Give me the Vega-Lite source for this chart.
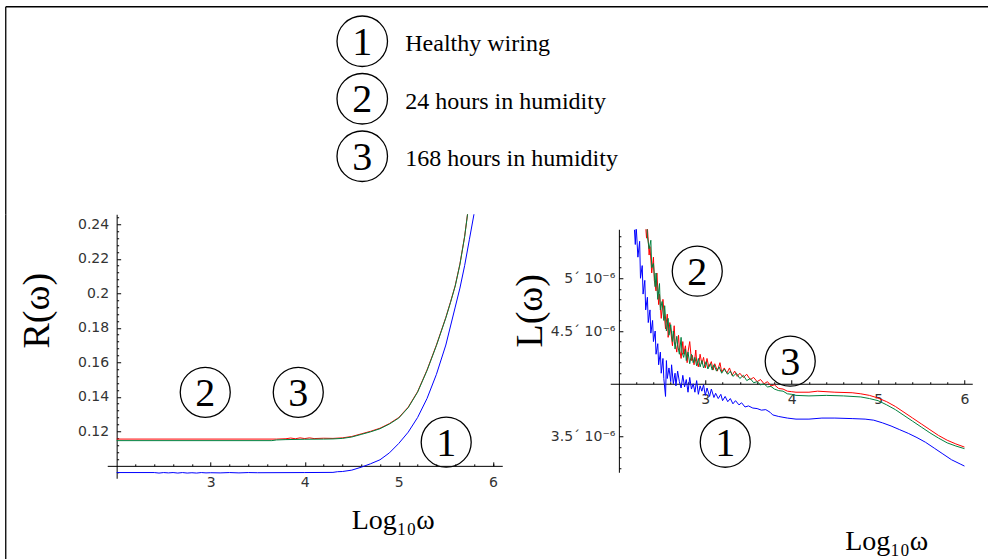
{
  "$schema": "https://vega.github.io/schema/vega-lite/v6.json",
  "background": "white",
  "padding": {"left": 5.25, "top": 6.25, "right": 0, "bottom": 0},
  "config": {
    "view": {"stroke": null},
    "font": "Liberation Serif",
    "text": {"font": "Liberation Serif"},
    "axis": {
      "grid": false,
      "domainColor": "black",
      "domainWidth": 1,
      "tickColor": "black",
      "tickWidth": 1,
      "labelFont": "DejaVu Sans",
      "labelFontSize": 14,
      "labelColor": "#333333",
      "titleFont": "Liberation Serif",
      "titleFontWeight": "normal",
      "titleColor": "black"
    }
  },
  "datasets": {
    "legend": [
      {"entry": 1, "label": "Healthy wiring"},
      {"entry": 2, "label": "24 hours in humidity"},
      {"entry": 3, "label": "168 hours in humidity"}
    ],
    "notes": [
      {"panel": "R", "n": "2", "logw": 2.942, "value": 0.1426},
      {"panel": "R", "n": "3", "logw": 3.931, "value": 0.1426},
      {"panel": "R", "n": "1", "logw": 5.504, "value": 0.1137},
      {"panel": "L", "n": "2", "logw": 2.907, "value": 5.067e-6},
      {"panel": "L", "n": "3", "logw": 3.983, "value": 4.214e-6},
      {"panel": "L", "n": "1", "logw": 3.231, "value": 3.446e-6}
    ],
    "resistance": [
      {"series": "1", "logw": 2.0, "R": 0.0961},
      {"series": "1", "logw": 2.4, "R": 0.0961},
      {"series": "1", "logw": 2.45, "R": 0.0958},
      {"series": "1", "logw": 2.5, "R": 0.0961},
      {"series": "1", "logw": 2.55, "R": 0.0959},
      {"series": "1", "logw": 2.6, "R": 0.0961},
      {"series": "1", "logw": 2.65, "R": 0.0958},
      {"series": "1", "logw": 2.7, "R": 0.0961},
      {"series": "1", "logw": 2.75, "R": 0.0958},
      {"series": "1", "logw": 2.8, "R": 0.096},
      {"series": "1", "logw": 2.85, "R": 0.0958},
      {"series": "1", "logw": 2.9, "R": 0.0961},
      {"series": "1", "logw": 2.95, "R": 0.0959},
      {"series": "1", "logw": 3.0, "R": 0.096},
      {"series": "1", "logw": 3.1, "R": 0.0959},
      {"series": "1", "logw": 3.2, "R": 0.0961},
      {"series": "1", "logw": 3.3, "R": 0.0959},
      {"series": "1", "logw": 3.4, "R": 0.0961},
      {"series": "1", "logw": 3.5, "R": 0.096},
      {"series": "1", "logw": 4.0, "R": 0.0961},
      {"series": "1", "logw": 4.3, "R": 0.0962},
      {"series": "1", "logw": 4.35, "R": 0.0966},
      {"series": "1", "logw": 4.4, "R": 0.0967},
      {"series": "1", "logw": 4.5, "R": 0.0975},
      {"series": "1", "logw": 4.6, "R": 0.0992},
      {"series": "1", "logw": 4.7, "R": 0.1012},
      {"series": "1", "logw": 4.8, "R": 0.1035},
      {"series": "1", "logw": 4.9, "R": 0.1075},
      {"series": "1", "logw": 5.0, "R": 0.113},
      {"series": "1", "logw": 5.1, "R": 0.1195},
      {"series": "1", "logw": 5.2, "R": 0.128},
      {"series": "1", "logw": 5.3, "R": 0.139},
      {"series": "1", "logw": 5.4, "R": 0.153},
      {"series": "1", "logw": 5.5, "R": 0.17},
      {"series": "1", "logw": 5.6, "R": 0.192},
      {"series": "1", "logw": 5.65, "R": 0.203},
      {"series": "1", "logw": 5.7, "R": 0.216},
      {"series": "1", "logw": 5.75, "R": 0.231},
      {"series": "1", "logw": 5.8, "R": 0.246},
      {"series": "1", "logw": 5.85, "R": 0.265},
      {"series": "2", "logw": 2.0, "R": 0.1155},
      {"series": "2", "logw": 3.7, "R": 0.1155},
      {"series": "2", "logw": 3.8, "R": 0.1157},
      {"series": "2", "logw": 3.85, "R": 0.1161},
      {"series": "2", "logw": 3.9, "R": 0.1157},
      {"series": "2", "logw": 3.95, "R": 0.1162},
      {"series": "2", "logw": 4.0, "R": 0.1158},
      {"series": "2", "logw": 4.05, "R": 0.1162},
      {"series": "2", "logw": 4.1, "R": 0.1158},
      {"series": "2", "logw": 4.2, "R": 0.116},
      {"series": "2", "logw": 4.3, "R": 0.1159},
      {"series": "2", "logw": 4.4, "R": 0.1162},
      {"series": "2", "logw": 4.5, "R": 0.117},
      {"series": "2", "logw": 4.6, "R": 0.1185},
      {"series": "2", "logw": 4.7, "R": 0.12},
      {"series": "2", "logw": 4.8, "R": 0.1218},
      {"series": "2", "logw": 4.9, "R": 0.1245},
      {"series": "2", "logw": 5.0, "R": 0.128},
      {"series": "2", "logw": 5.1, "R": 0.134},
      {"series": "2", "logw": 5.2, "R": 0.143},
      {"series": "2", "logw": 5.3, "R": 0.1555},
      {"series": "2", "logw": 5.4, "R": 0.17},
      {"series": "2", "logw": 5.5, "R": 0.186},
      {"series": "2", "logw": 5.55, "R": 0.195},
      {"series": "2", "logw": 5.6, "R": 0.2045},
      {"series": "2", "logw": 5.65, "R": 0.217},
      {"series": "2", "logw": 5.7, "R": 0.233},
      {"series": "2", "logw": 5.75, "R": 0.254},
      {"series": "2", "logw": 5.8, "R": 0.278},
      {"series": "3", "logw": 2.0, "R": 0.1146},
      {"series": "3", "logw": 3.65, "R": 0.1146},
      {"series": "3", "logw": 3.7, "R": 0.115},
      {"series": "3", "logw": 3.8, "R": 0.1152},
      {"series": "3", "logw": 4.0, "R": 0.1154},
      {"series": "3", "logw": 4.2, "R": 0.1155},
      {"series": "3", "logw": 4.3, "R": 0.1156},
      {"series": "3", "logw": 4.4, "R": 0.1159},
      {"series": "3", "logw": 4.5, "R": 0.1167},
      {"series": "3", "logw": 4.6, "R": 0.1182},
      {"series": "3", "logw": 4.7, "R": 0.1197},
      {"series": "3", "logw": 4.8, "R": 0.1215},
      {"series": "3", "logw": 4.9, "R": 0.1242},
      {"series": "3", "logw": 5.0, "R": 0.1277},
      {"series": "3", "logw": 5.1, "R": 0.1337},
      {"series": "3", "logw": 5.2, "R": 0.1427},
      {"series": "3", "logw": 5.3, "R": 0.1552},
      {"series": "3", "logw": 5.4, "R": 0.1697},
      {"series": "3", "logw": 5.5, "R": 0.1857},
      {"series": "3", "logw": 5.55, "R": 0.1947},
      {"series": "3", "logw": 5.6, "R": 0.2042},
      {"series": "3", "logw": 5.65, "R": 0.2167},
      {"series": "3", "logw": 5.7, "R": 0.2327},
      {"series": "3", "logw": 5.75, "R": 0.2537},
      {"series": "3", "logw": 5.8, "R": 0.2777}
    ],
    "inductance": [
      {"series": "1", "logw": 2.18, "L": 5.46e-6},
      {"series": "1", "logw": 2.19, "L": 5.32e-6},
      {"series": "1", "logw": 2.2, "L": 5.5e-6},
      {"series": "1", "logw": 2.22, "L": 5.2e-6},
      {"series": "1", "logw": 2.24, "L": 5.35e-6},
      {"series": "1", "logw": 2.25, "L": 5.0e-6},
      {"series": "1", "logw": 2.27, "L": 5.12e-6},
      {"series": "1", "logw": 2.28, "L": 4.85e-6},
      {"series": "1", "logw": 2.3, "L": 4.98e-6},
      {"series": "1", "logw": 2.31, "L": 4.7e-6},
      {"series": "1", "logw": 2.33, "L": 4.82e-6},
      {"series": "1", "logw": 2.34, "L": 4.58e-6},
      {"series": "1", "logw": 2.36, "L": 4.7e-6},
      {"series": "1", "logw": 2.37, "L": 4.48e-6},
      {"series": "1", "logw": 2.39, "L": 4.6e-6},
      {"series": "1", "logw": 2.4, "L": 4.4e-6},
      {"series": "1", "logw": 2.42, "L": 4.5e-6},
      {"series": "1", "logw": 2.43, "L": 4.28e-6},
      {"series": "1", "logw": 2.45, "L": 4.38e-6},
      {"series": "1", "logw": 2.46, "L": 4.18e-6},
      {"series": "1", "logw": 2.48, "L": 4.3e-6},
      {"series": "1", "logw": 2.49, "L": 4.1e-6},
      {"series": "1", "logw": 2.51, "L": 4.24e-6},
      {"series": "1", "logw": 2.52, "L": 4.05e-6},
      {"series": "1", "logw": 2.54, "L": 3.88e-6},
      {"series": "1", "logw": 2.55, "L": 4.22e-6},
      {"series": "1", "logw": 2.56, "L": 4.05e-6},
      {"series": "1", "logw": 2.58, "L": 4.15e-6},
      {"series": "1", "logw": 2.6, "L": 4.02e-6},
      {"series": "1", "logw": 2.61, "L": 4.18e-6},
      {"series": "1", "logw": 2.63, "L": 4.0e-6},
      {"series": "1", "logw": 2.65, "L": 4.1e-6},
      {"series": "1", "logw": 2.66, "L": 3.98e-6},
      {"series": "1", "logw": 2.68, "L": 4.12e-6},
      {"series": "1", "logw": 2.7, "L": 4.02e-6},
      {"series": "1", "logw": 2.72, "L": 3.96e-6},
      {"series": "1", "logw": 2.74, "L": 4.08e-6},
      {"series": "1", "logw": 2.76, "L": 3.97e-6},
      {"series": "1", "logw": 2.78, "L": 4.04e-6},
      {"series": "1", "logw": 2.8, "L": 3.92e-6},
      {"series": "1", "logw": 2.82, "L": 4.06e-6},
      {"series": "1", "logw": 2.84, "L": 3.95e-6},
      {"series": "1", "logw": 2.86, "L": 4.0e-6},
      {"series": "1", "logw": 2.88, "L": 3.92e-6},
      {"series": "1", "logw": 2.9, "L": 4.03e-6},
      {"series": "1", "logw": 2.92, "L": 3.9e-6},
      {"series": "1", "logw": 2.94, "L": 3.98e-6},
      {"series": "1", "logw": 2.96, "L": 3.93e-6},
      {"series": "1", "logw": 2.98, "L": 3.99e-6},
      {"series": "1", "logw": 3.0, "L": 3.89e-6},
      {"series": "1", "logw": 3.02, "L": 3.96e-6},
      {"series": "1", "logw": 3.05, "L": 3.88e-6},
      {"series": "1", "logw": 3.07, "L": 3.95e-6},
      {"series": "1", "logw": 3.1, "L": 3.87e-6},
      {"series": "1", "logw": 3.12, "L": 3.91e-6},
      {"series": "1", "logw": 3.15, "L": 3.86e-6},
      {"series": "1", "logw": 3.18, "L": 3.9e-6},
      {"series": "1", "logw": 3.2, "L": 3.84e-6},
      {"series": "1", "logw": 3.23, "L": 3.88e-6},
      {"series": "1", "logw": 3.26, "L": 3.83e-6},
      {"series": "1", "logw": 3.29, "L": 3.86e-6},
      {"series": "1", "logw": 3.32, "L": 3.81e-6},
      {"series": "1", "logw": 3.35, "L": 3.84e-6},
      {"series": "1", "logw": 3.39, "L": 3.8e-6},
      {"series": "1", "logw": 3.42, "L": 3.82e-6},
      {"series": "1", "logw": 3.46, "L": 3.78e-6},
      {"series": "1", "logw": 3.5, "L": 3.79e-6},
      {"series": "1", "logw": 3.55, "L": 3.77e-6},
      {"series": "1", "logw": 3.6, "L": 3.765e-6},
      {"series": "1", "logw": 3.65, "L": 3.75e-6},
      {"series": "1", "logw": 3.7, "L": 3.755e-6},
      {"series": "1", "logw": 3.75, "L": 3.73e-6},
      {"series": "1", "logw": 3.78, "L": 3.705e-6},
      {"series": "1", "logw": 3.85, "L": 3.69e-6},
      {"series": "1", "logw": 3.95, "L": 3.675e-6},
      {"series": "1", "logw": 4.05, "L": 3.665e-6},
      {"series": "1", "logw": 4.2, "L": 3.665e-6},
      {"series": "1", "logw": 4.35, "L": 3.675e-6},
      {"series": "1", "logw": 4.5, "L": 3.675e-6},
      {"series": "1", "logw": 4.7, "L": 3.67e-6},
      {"series": "1", "logw": 4.85, "L": 3.665e-6},
      {"series": "1", "logw": 4.95, "L": 3.655e-6},
      {"series": "1", "logw": 5.05, "L": 3.63e-6},
      {"series": "1", "logw": 5.15, "L": 3.6e-6},
      {"series": "1", "logw": 5.25, "L": 3.565e-6},
      {"series": "1", "logw": 5.35, "L": 3.53e-6},
      {"series": "1", "logw": 5.45, "L": 3.49e-6},
      {"series": "1", "logw": 5.55, "L": 3.445e-6},
      {"series": "1", "logw": 5.65, "L": 3.39e-6},
      {"series": "1", "logw": 5.75, "L": 3.335e-6},
      {"series": "1", "logw": 5.85, "L": 3.28e-6},
      {"series": "1", "logw": 5.95, "L": 3.24e-6},
      {"series": "1", "logw": 6.0, "L": 3.22e-6},
      {"series": "2", "logw": 2.3, "L": 5.6e-6},
      {"series": "2", "logw": 2.32, "L": 5.38e-6},
      {"series": "2", "logw": 2.33, "L": 5.48e-6},
      {"series": "2", "logw": 2.35, "L": 5.22e-6},
      {"series": "2", "logw": 2.36, "L": 5.3e-6},
      {"series": "2", "logw": 2.38, "L": 5.05e-6},
      {"series": "2", "logw": 2.4, "L": 5.2e-6},
      {"series": "2", "logw": 2.41, "L": 4.98e-6},
      {"series": "2", "logw": 2.43, "L": 4.88e-6},
      {"series": "2", "logw": 2.44, "L": 5.05e-6},
      {"series": "2", "logw": 2.46, "L": 4.75e-6},
      {"series": "2", "logw": 2.47, "L": 4.85e-6},
      {"series": "2", "logw": 2.49, "L": 4.62e-6},
      {"series": "2", "logw": 2.51, "L": 4.8e-6},
      {"series": "2", "logw": 2.52, "L": 4.7e-6},
      {"series": "2", "logw": 2.54, "L": 4.52e-6},
      {"series": "2", "logw": 2.56, "L": 4.66e-6},
      {"series": "2", "logw": 2.57, "L": 4.44e-6},
      {"series": "2", "logw": 2.59, "L": 4.58e-6},
      {"series": "2", "logw": 2.6, "L": 4.5e-6},
      {"series": "2", "logw": 2.62, "L": 4.36e-6},
      {"series": "2", "logw": 2.64, "L": 4.55e-6},
      {"series": "2", "logw": 2.65, "L": 4.4e-6},
      {"series": "2", "logw": 2.67, "L": 4.3e-6},
      {"series": "2", "logw": 2.69, "L": 4.46e-6},
      {"series": "2", "logw": 2.7, "L": 4.34e-6},
      {"series": "2", "logw": 2.72, "L": 4.24e-6},
      {"series": "2", "logw": 2.74, "L": 4.4e-6},
      {"series": "2", "logw": 2.75, "L": 4.28e-6},
      {"series": "2", "logw": 2.77, "L": 4.36e-6},
      {"series": "2", "logw": 2.79, "L": 4.2e-6},
      {"series": "2", "logw": 2.8, "L": 4.3e-6},
      {"series": "2", "logw": 2.82, "L": 4.4e-6},
      {"series": "2", "logw": 2.84, "L": 4.22e-6},
      {"series": "2", "logw": 2.85, "L": 4.27e-6},
      {"series": "2", "logw": 2.87, "L": 4.18e-6},
      {"series": "2", "logw": 2.89, "L": 4.32e-6},
      {"series": "2", "logw": 2.9, "L": 4.21e-6},
      {"series": "2", "logw": 2.92, "L": 4.16e-6},
      {"series": "2", "logw": 2.94, "L": 4.28e-6},
      {"series": "2", "logw": 2.96, "L": 4.19e-6},
      {"series": "2", "logw": 2.98, "L": 4.25e-6},
      {"series": "2", "logw": 3.0, "L": 4.15e-6},
      {"series": "2", "logw": 3.02, "L": 4.24e-6},
      {"series": "2", "logw": 3.04, "L": 4.16e-6},
      {"series": "2", "logw": 3.07, "L": 4.21e-6},
      {"series": "2", "logw": 3.09, "L": 4.13e-6},
      {"series": "2", "logw": 3.11, "L": 4.19e-6},
      {"series": "2", "logw": 3.14, "L": 4.12e-6},
      {"series": "2", "logw": 3.17, "L": 4.2e-6},
      {"series": "2", "logw": 3.19, "L": 4.11e-6},
      {"series": "2", "logw": 3.22, "L": 4.15e-6},
      {"series": "2", "logw": 3.25, "L": 4.1e-6},
      {"series": "2", "logw": 3.28, "L": 4.15e-6},
      {"series": "2", "logw": 3.31, "L": 4.08e-6},
      {"series": "2", "logw": 3.34, "L": 4.12e-6},
      {"series": "2", "logw": 3.37, "L": 4.07e-6},
      {"series": "2", "logw": 3.4, "L": 4.1e-6},
      {"series": "2", "logw": 3.44, "L": 4.06e-6},
      {"series": "2", "logw": 3.48, "L": 4.09e-6},
      {"series": "2", "logw": 3.52, "L": 4.04e-6},
      {"series": "2", "logw": 3.56, "L": 4.06e-6},
      {"series": "2", "logw": 3.6, "L": 4.02e-6},
      {"series": "2", "logw": 3.64, "L": 4.04e-6},
      {"series": "2", "logw": 3.68, "L": 4.0e-6},
      {"series": "2", "logw": 3.72, "L": 4.02e-6},
      {"series": "2", "logw": 3.76, "L": 3.98e-6},
      {"series": "2", "logw": 3.8, "L": 3.99e-6},
      {"series": "2", "logw": 3.85, "L": 3.955e-6},
      {"series": "2", "logw": 3.9, "L": 3.95e-6},
      {"series": "2", "logw": 3.95, "L": 3.93e-6},
      {"series": "2", "logw": 4.0, "L": 3.925e-6},
      {"series": "2", "logw": 4.05, "L": 3.92e-6},
      {"series": "2", "logw": 4.2, "L": 3.92e-6},
      {"series": "2", "logw": 4.3, "L": 3.93e-6},
      {"series": "2", "logw": 4.5, "L": 3.92e-6},
      {"series": "2", "logw": 4.7, "L": 3.915e-6},
      {"series": "2", "logw": 4.8, "L": 3.905e-6},
      {"series": "2", "logw": 4.9, "L": 3.89e-6},
      {"series": "2", "logw": 5.0, "L": 3.865e-6},
      {"series": "2", "logw": 5.1, "L": 3.83e-6},
      {"series": "2", "logw": 5.2, "L": 3.785e-6},
      {"series": "2", "logw": 5.3, "L": 3.73e-6},
      {"series": "2", "logw": 5.4, "L": 3.675e-6},
      {"series": "2", "logw": 5.5, "L": 3.62e-6},
      {"series": "2", "logw": 5.6, "L": 3.565e-6},
      {"series": "2", "logw": 5.7, "L": 3.51e-6},
      {"series": "2", "logw": 5.8, "L": 3.465e-6},
      {"series": "2", "logw": 5.9, "L": 3.43e-6},
      {"series": "2", "logw": 6.0, "L": 3.4e-6},
      {"series": "3", "logw": 2.32, "L": 5.6e-6},
      {"series": "3", "logw": 2.33, "L": 5.4e-6},
      {"series": "3", "logw": 2.35, "L": 5.28e-6},
      {"series": "3", "logw": 2.37, "L": 5.36e-6},
      {"series": "3", "logw": 2.38, "L": 5.1e-6},
      {"series": "3", "logw": 2.4, "L": 5.14e-6},
      {"series": "3", "logw": 2.42, "L": 4.92e-6},
      {"series": "3", "logw": 2.43, "L": 5.05e-6},
      {"series": "3", "logw": 2.45, "L": 4.8e-6},
      {"series": "3", "logw": 2.47, "L": 4.95e-6},
      {"series": "3", "logw": 2.48, "L": 4.7e-6},
      {"series": "3", "logw": 2.5, "L": 4.78e-6},
      {"series": "3", "logw": 2.52, "L": 4.6e-6},
      {"series": "3", "logw": 2.53, "L": 4.74e-6},
      {"series": "3", "logw": 2.55, "L": 4.5e-6},
      {"series": "3", "logw": 2.57, "L": 4.62e-6},
      {"series": "3", "logw": 2.58, "L": 4.46e-6},
      {"series": "3", "logw": 2.6, "L": 4.56e-6},
      {"series": "3", "logw": 2.62, "L": 4.4e-6},
      {"series": "3", "logw": 2.63, "L": 4.5e-6},
      {"series": "3", "logw": 2.65, "L": 4.33e-6},
      {"series": "3", "logw": 2.67, "L": 4.45e-6},
      {"series": "3", "logw": 2.68, "L": 4.37e-6},
      {"series": "3", "logw": 2.7, "L": 4.28e-6},
      {"series": "3", "logw": 2.72, "L": 4.44e-6},
      {"series": "3", "logw": 2.73, "L": 4.3e-6},
      {"series": "3", "logw": 2.75, "L": 4.25e-6},
      {"series": "3", "logw": 2.77, "L": 4.33e-6},
      {"series": "3", "logw": 2.78, "L": 4.22e-6},
      {"series": "3", "logw": 2.8, "L": 4.3e-6},
      {"series": "3", "logw": 2.82, "L": 4.19e-6},
      {"series": "3", "logw": 2.84, "L": 4.28e-6},
      {"series": "3", "logw": 2.86, "L": 4.2e-6},
      {"series": "3", "logw": 2.88, "L": 4.25e-6},
      {"series": "3", "logw": 2.9, "L": 4.17e-6},
      {"series": "3", "logw": 2.92, "L": 4.24e-6},
      {"series": "3", "logw": 2.94, "L": 4.16e-6},
      {"series": "3", "logw": 2.96, "L": 4.22e-6},
      {"series": "3", "logw": 2.98, "L": 4.15e-6},
      {"series": "3", "logw": 3.01, "L": 4.21e-6},
      {"series": "3", "logw": 3.03, "L": 4.14e-6},
      {"series": "3", "logw": 3.06, "L": 4.19e-6},
      {"series": "3", "logw": 3.08, "L": 4.13e-6},
      {"series": "3", "logw": 3.1, "L": 4.18e-6},
      {"series": "3", "logw": 3.13, "L": 4.12e-6},
      {"series": "3", "logw": 3.16, "L": 4.16e-6},
      {"series": "3", "logw": 3.19, "L": 4.1e-6},
      {"series": "3", "logw": 3.22, "L": 4.14e-6},
      {"series": "3", "logw": 3.26, "L": 4.09e-6},
      {"series": "3", "logw": 3.29, "L": 4.12e-6},
      {"series": "3", "logw": 3.32, "L": 4.07e-6},
      {"series": "3", "logw": 3.36, "L": 4.1e-6},
      {"series": "3", "logw": 3.4, "L": 4.05e-6},
      {"series": "3", "logw": 3.44, "L": 4.08e-6},
      {"series": "3", "logw": 3.48, "L": 4.03e-6},
      {"series": "3", "logw": 3.52, "L": 4.05e-6},
      {"series": "3", "logw": 3.56, "L": 4.01e-6},
      {"series": "3", "logw": 3.6, "L": 4.02e-6},
      {"series": "3", "logw": 3.64, "L": 3.99e-6},
      {"series": "3", "logw": 3.68, "L": 4.0e-6},
      {"series": "3", "logw": 3.72, "L": 3.97e-6},
      {"series": "3", "logw": 3.76, "L": 3.975e-6},
      {"series": "3", "logw": 3.8, "L": 3.95e-6},
      {"series": "3", "logw": 3.85, "L": 3.935e-6},
      {"series": "3", "logw": 3.9, "L": 3.93e-6},
      {"series": "3", "logw": 3.95, "L": 3.905e-6},
      {"series": "3", "logw": 4.0, "L": 3.9e-6},
      {"series": "3", "logw": 4.05, "L": 3.89e-6},
      {"series": "3", "logw": 4.2, "L": 3.885e-6},
      {"series": "3", "logw": 4.4, "L": 3.89e-6},
      {"series": "3", "logw": 4.6, "L": 3.885e-6},
      {"series": "3", "logw": 4.8, "L": 3.875e-6},
      {"series": "3", "logw": 4.9, "L": 3.86e-6},
      {"series": "3", "logw": 5.0, "L": 3.84e-6},
      {"series": "3", "logw": 5.1, "L": 3.8e-6},
      {"series": "3", "logw": 5.2, "L": 3.755e-6},
      {"series": "3", "logw": 5.3, "L": 3.7e-6},
      {"series": "3", "logw": 5.4, "L": 3.645e-6},
      {"series": "3", "logw": 5.5, "L": 3.59e-6},
      {"series": "3", "logw": 5.6, "L": 3.535e-6},
      {"series": "3", "logw": 5.7, "L": 3.485e-6},
      {"series": "3", "logw": 5.8, "L": 3.44e-6},
      {"series": "3", "logw": 5.9, "L": 3.41e-6},
      {"series": "3", "logw": 6.0, "L": 3.385e-6}
    ]
  },
  "bounds": "flush",
  "spacing": 0,
  "vconcat": [
    {
      "width": 983,
      "height": 208,
      "data": {"name": "legend"},
      "layer": [
        {
          "mark": {"type": "rule", "opacity": 0},
          "encoding": {
            "x": {"datum": 0, "type": "quantitative", "scale": {"domain": [0, 1]},
                  "axis": {"orient": "top", "domain": true, "domainWidth": 1.3, "ticks": false, "labels": false, "title": null}}
          }
        },
        {
          "mark": {"type": "point", "shape": "circle", "size": 2550, "filled": false, "stroke": "black", "strokeWidth": 1.3, "opacity": 1},
          "encoding": {
            "x": {"value": 357},
            "y": {"field": "entry", "type": "quantitative", "scale": {"domain": [0.3913, 4.0087], "reverse": true, "nice": false, "zero": false},
                  "axis": {"orient": "left", "domain": true, "domainWidth": 1.3, "ticks": false, "labels": false, "title": null}}
          }
        },
        {
          "mark": {"type": "text", "font": "Liberation Serif", "fontSize": 40, "align": "center", "baseline": "alphabetic", "dy": 13.5, "color": "black"},
          "encoding": {
            "x": {"value": 357},
            "y": {"field": "entry", "type": "quantitative"},
            "text": {"field": "entry"}
          }
        },
        {
          "mark": {"type": "text", "font": "Liberation Serif", "fontSize": 24, "align": "left", "baseline": "alphabetic", "dy": 10, "color": "black"},
          "encoding": {
            "x": {"value": 400},
            "y": {"field": "entry", "type": "quantitative"},
            "text": {"field": "label"}
          }
        }
      ]
    },
    {
      "bounds": "flush",
      "spacing": 0,
      "hconcat": [
        {
          "width": 102,
          "height": 352,
          "data": {"values": [{}]},
          "mark": {"type": "rule", "opacity": 0},
          "encoding": {
            "y": {"datum": 0, "type": "quantitative",
                  "axis": {"orient": "left", "domain": true, "domainWidth": 1.3, "ticks": false, "labels": false, "title": null}}
          }
        },
        {
          "bounds": "flush",
          "spacing": 108,
          "hconcat": [
            {
              "width": 395,
              "height": 264,
              "layer": [
                {
                  "data": {"name": "resistance"},
                  "mark": {"type": "line", "strokeWidth": 1, "clip": true},
                  "encoding": {
                    "x": {"field": "logw", "type": "quantitative",
                          "scale": {"domain": [1.9, 6.1], "nice": false, "zero": false},
                          "axis": {"orient": "bottom", "offset": -12.4, "values": [3, 4, 5, 6], "tickSize": -4, "labelPadding": 14,
                                   "title": "Log₁₀ω", "titleFontSize": 28, "titleX": 285.5, "titleY": 63, "titleAlign": "center", "titleBaseline": "alphabetic"}},
                    "y": {"field": "R", "type": "quantitative",
                          "scale": {"domain": [0.0928, 0.2458], "nice": false, "zero": false},
                          "axis": {"orient": "left", "offset": -9.4, "values": [0.12, 0.14, 0.16, 0.18, 0.2, 0.22, 0.24], "format": ".2~f",
                                   "tickSize": -4, "labelPadding": 12,
                                   "title": "R(ω)", "titleFontSize": 38, "titleAngle": 270, "titleX": -79, "titleY": 96, "titleAlign": "center", "titleBaseline": "middle"}},
                    "color": {"field": "series", "type": "nominal",
                              "scale": {"domain": ["1", "2", "3"], "range": ["#0000ff", "#ff0000", "#00803f"]}, "legend": null}
                  }
                },
                {
                  "data": {"name": "resistance"},
                  "mark": {"type": "point", "opacity": 0},
                  "encoding": {
                    "x": {"field": "logw", "type": "quantitative",
                          "axis": {"orient": "bottom", "offset": -12.4, "domain": false, "labels": false, "title": null, "tickSize": -2,
                                   "values": [2.2, 2.4, 2.6, 2.8, 3.2, 3.4, 3.6, 3.8, 4.2, 4.4, 4.6, 4.8, 5.2, 5.4, 5.6, 5.8, 6.0]}},
                    "y": {"field": "R", "type": "quantitative",
                          "axis": {"orient": "left", "offset": -9.4, "domain": false, "labels": false, "title": null, "tickSize": -2,
                                   "values": [0.096, 0.104, 0.108, 0.112, 0.116, 0.124, 0.128, 0.132, 0.136, 0.144, 0.148, 0.152, 0.156, 0.164, 0.168, 0.172, 0.176, 0.184, 0.188, 0.192, 0.196, 0.204, 0.208, 0.212, 0.216, 0.224, 0.228, 0.232, 0.236, 0.244]}}
                  }
                },
                {
                  "data": {"name": "notes"},
                  "transform": [{"filter": "datum.panel == 'R'"}],
                  "mark": {"type": "point", "shape": "circle", "size": 2500, "filled": false, "stroke": "black", "strokeWidth": 1.3, "opacity": 1},
                  "encoding": {
                    "x": {"field": "logw", "type": "quantitative", "axis": null},
                    "y": {"field": "value", "type": "quantitative", "axis": null}
                  }
                },
                {
                  "data": {"name": "notes"},
                  "transform": [{"filter": "datum.panel == 'R'"}],
                  "mark": {"type": "text", "font": "Liberation Serif", "fontSize": 40, "align": "center", "baseline": "alphabetic", "dy": 13.5, "color": "black"},
                  "encoding": {
                    "x": {"field": "logw", "type": "quantitative", "axis": null},
                    "y": {"field": "value", "type": "quantitative", "axis": null},
                    "text": {"field": "n"}
                  }
                }
              ],
              "resolve": {"axis": {"x": "independent", "y": "independent"}}
            },
            {
              "bounds": "flush",
              "spacing": 0,
              "vconcat": [
                {
                  "width": 362,
                  "height": 15,
                  "data": {"values": [{}]},
                  "mark": {"type": "point", "opacity": 0}
                },
                {
                  "width": 362,
                  "height": 243,
                  "layer": [
                    {
                      "data": {"name": "inductance"},
                      "mark": {"type": "line", "strokeWidth": 1, "clip": true},
                      "encoding": {
                        "x": {"field": "logw", "type": "quantitative",
                              "scale": {"domain": [1.9, 6.09], "nice": false, "zero": false},
                              "axis": {"orient": "bottom", "offset": -88.5, "values": [3, 4, 5, 6], "tickSize": -4, "labelPadding": 13,
                                       "title": "Log₁₀ω", "titleFontSize": 28, "titleX": 276, "titleY": 165.5, "titleAlign": "center", "titleBaseline": "alphabetic"}},
                        "y": {"field": "L", "type": "quantitative",
                              "scale": {"domain": [3.1615e-6, 5.4645e-6], "nice": false, "zero": false},
                              "axis": {"orient": "left", "offset": -8.64, "values": [3.5e-6, 4.5e-6, 5e-6], "tickSize": -4, "labelPadding": 8,
                                       "labelExpr": "datum.value > 4.9e-6 ? '5´ 10⁻⁶' : (datum.value > 4e-6 ? '4.5´ 10⁻⁶' : '3.5´ 10⁻⁶')",
                                       "title": "L(ω)", "titleFontSize": 38, "titleAngle": 270, "titleX": -88.6, "titleY": 81, "titleAlign": "center", "titleBaseline": "middle"}},
                        "color": {"field": "series", "type": "nominal",
                                  "scale": {"domain": ["1", "2", "3"], "range": ["#0000ff", "#ff0000", "#00803f"]}, "legend": null}
                      }
                    },
                    {
                      "data": {"name": "inductance"},
                      "mark": {"type": "point", "opacity": 0},
                      "encoding": {
                        "x": {"field": "logw", "type": "quantitative",
                              "axis": {"orient": "bottom", "offset": -88.5, "domain": false, "labels": false, "title": null, "tickSize": -2,
                                       "values": [2.2, 2.4, 2.6, 2.8, 3.2, 3.4, 3.6, 3.8, 4.2, 4.4, 4.6, 4.8, 5.2, 5.4, 5.6, 5.8]}},
                        "y": {"field": "L", "type": "quantitative",
                              "axis": {"orient": "left", "offset": -8.64, "domain": false, "labels": false, "title": null, "tickSize": -2,
                                       "values": [3.2e-6, 3.3e-6, 3.4e-6, 3.6e-6, 3.7e-6, 3.8e-6, 3.9e-6, 4.1e-6, 4.2e-6, 4.3e-6, 4.4e-6, 4.6e-6, 4.7e-6, 4.8e-6, 4.9e-6, 5.1e-6, 5.2e-6, 5.3e-6, 5.4e-6]}}
                      }
                    },
                    {
                      "data": {"name": "notes"},
                      "transform": [{"filter": "datum.panel == 'L'"}],
                      "mark": {"type": "point", "shape": "circle", "size": 2500, "filled": false, "stroke": "black", "strokeWidth": 1.3, "opacity": 1},
                      "encoding": {
                        "x": {"field": "logw", "type": "quantitative", "axis": null},
                        "y": {"field": "value", "type": "quantitative", "axis": null}
                      }
                    },
                    {
                      "data": {"name": "notes"},
                      "transform": [{"filter": "datum.panel == 'L'"}],
                      "mark": {"type": "text", "font": "Liberation Serif", "fontSize": 40, "align": "center", "baseline": "alphabetic", "dy": 13.5, "color": "black"},
                      "encoding": {
                        "x": {"field": "logw", "type": "quantitative", "axis": null},
                        "y": {"field": "value", "type": "quantitative", "axis": null},
                        "text": {"field": "n"}
                      }
                    }
                  ],
                  "resolve": {"axis": {"x": "independent", "y": "independent"}}
                }
              ]
            }
          ]
        }
      ]
    }
  ]
}
